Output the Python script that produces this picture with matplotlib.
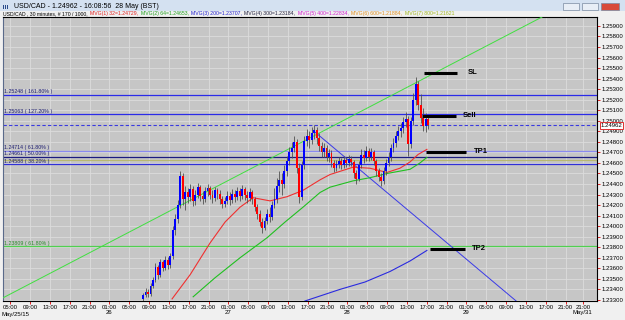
import numpy as np
import matplotlib
matplotlib.use("Agg")
import matplotlib.pyplot as plt
from matplotlib.patches import Rectangle
from matplotlib.transforms import blended_transform_factory

plt.rcParams["font.family"] = ["Liberation Sans", "DejaVu Sans"]

# --- candles (30 minute bars, index 0 = first visible bar) ---
opens = [1.2331,1.2335,1.2338,1.2336,1.2343,1.2349,1.2361,1.2354,1.2366,1.2360,
         1.2368,1.2363,1.2372,1.2396,1.2407,1.2420,1.2448,1.2426,1.2432,1.2428,
         1.2435,1.2424,1.2430,1.2437,1.2429,1.2426,1.2433,1.2436,1.2430,1.2427,
         1.2434,1.2431,1.2426,1.2421,1.2424,1.2429,1.2425,1.2431,1.2428,1.2433,
         1.2429,1.2435,1.2430,1.2427,1.2432,1.2426,1.2418,1.2412,1.2404,1.2398,
         1.2405,1.2412,1.2409,1.2420,1.2426,1.2438,1.2444,1.2440,1.2452,1.2462,
         1.2470,1.2474,1.2480,1.2455,1.2428,1.2458,1.2481,1.2486,1.2482,1.2488,
         1.2491,1.2484,1.2476,1.2470,1.2474,1.2466,1.2469,1.2460,1.2455,1.2459,
         1.2462,1.2458,1.2463,1.2460,1.2464,1.2461,1.2450,1.2445,1.2458,1.2468,
         1.2465,1.2471,1.2466,1.2470,1.2462,1.2452,1.2447,1.2443,1.2452,1.2460,
         1.2466,1.2474,1.2479,1.2486,1.2490,1.2493,1.2499,1.2502,1.2478,1.2500,
         1.2520,1.2535,1.2515,1.2503,1.2495,1.2502]
closes = [1.2335,1.2338,1.2336,1.2343,1.2349,1.2361,1.2354,1.2366,1.2360,1.2368,
          1.2363,1.2372,1.2396,1.2407,1.2420,1.2448,1.2426,1.2432,1.2428,1.2435,
          1.2424,1.2430,1.2437,1.2429,1.2426,1.2433,1.2436,1.2430,1.2427,1.2434,
          1.2431,1.2426,1.2421,1.2424,1.2429,1.2425,1.2431,1.2428,1.2433,1.2429,
          1.2435,1.2430,1.2427,1.2432,1.2426,1.2418,1.2412,1.2404,1.2398,1.2405,
          1.2412,1.2409,1.2420,1.2426,1.2438,1.2444,1.2440,1.2452,1.2462,1.2470,
          1.2474,1.2480,1.2455,1.2428,1.2458,1.2481,1.2486,1.2482,1.2488,1.2491,
          1.2484,1.2476,1.2470,1.2474,1.2466,1.2469,1.2460,1.2455,1.2459,1.2462,
          1.2458,1.2463,1.2460,1.2464,1.2461,1.2450,1.2445,1.2458,1.2468,1.2465,
          1.2471,1.2466,1.2470,1.2462,1.2452,1.2447,1.2443,1.2452,1.2460,1.2466,
          1.2474,1.2479,1.2486,1.2490,1.2493,1.2499,1.2502,1.2478,1.2500,1.2520,
          1.2535,1.2515,1.2503,1.2495,1.2502,1.24962]
highs = [1.2337,1.2341,1.2340,1.2346,1.2352,1.2365,1.2363,1.2369,1.2368,1.2372,
         1.2371,1.2375,1.2400,1.2412,1.2425,1.2452,1.2450,1.2438,1.2436,1.2440,
         1.2438,1.2434,1.2441,1.2439,1.2433,1.2437,1.2440,1.2438,1.2434,1.2437,
         1.2436,1.2434,1.2429,1.2428,1.2433,1.2432,1.2435,1.2434,1.2437,1.2436,
         1.2439,1.2437,1.2433,1.2436,1.2434,1.2428,1.2421,1.2415,1.2408,1.2409,
         1.2416,1.2418,1.2424,1.2436,1.2446,1.2452,1.2450,1.2458,1.2467,1.2475,
         1.2480,1.2486,1.2483,1.2460,1.2462,1.2486,1.2492,1.2490,1.2494,1.2496,
         1.2494,1.2488,1.2480,1.2479,1.2477,1.2473,1.2472,1.2463,1.2463,1.2466,
         1.2465,1.2467,1.2466,1.2468,1.2467,1.2463,1.2453,1.2462,1.2473,1.2472,
         1.2476,1.2474,1.2474,1.2472,1.2464,1.2455,1.2450,1.2456,1.2464,1.2470,
         1.2478,1.2484,1.2490,1.2495,1.2498,1.2504,1.2508,1.2505,1.2504,1.2526,
         1.2542,1.2538,1.2525,1.2512,1.2507,1.2505]
lows = [1.2329,1.2333,1.2333,1.2334,1.2341,1.2347,1.2350,1.2352,1.2357,1.2358,
        1.2359,1.2360,1.2369,1.2392,1.2403,1.2417,1.2420,1.2415,1.2422,1.2424,
        1.2419,1.2420,1.2427,1.2424,1.2421,1.2423,1.2429,1.2426,1.2422,1.2424,
        1.2426,1.2421,1.2417,1.2418,1.2421,1.2420,1.2422,1.2423,1.2425,1.2424,
        1.2426,1.2425,1.2422,1.2424,1.2421,1.2414,1.2407,1.2400,1.2394,1.2396,
        1.2402,1.2404,1.2406,1.2417,1.2422,1.2432,1.2430,1.2436,1.2448,1.2458,
        1.2465,1.2470,1.2450,1.2422,1.2425,1.2454,1.2476,1.2474,1.2478,1.2483,
        1.2478,1.2471,1.2466,1.2466,1.2462,1.2461,1.2456,1.2451,1.2452,1.2455,
        1.2454,1.2455,1.2456,1.2457,1.2457,1.2446,1.2440,1.2443,1.2455,1.2460,
        1.2462,1.2462,1.2463,1.2458,1.2448,1.2443,1.2438,1.2440,1.2449,1.2457,
        1.2462,1.2470,1.2475,1.2482,1.2485,1.2488,1.2494,1.2467,1.2474,1.2496,
        1.2515,1.2510,1.2498,1.2490,1.2489,1.2492]

# --- moving averages, (bar index, price) ---
ma32_x = [11.7, 19.0, 27.0, 33.1, 39.1, 44.4, 51.2, 58.1, 64.5, 71.4, 75.4, 84.7, 91.5, 98.4, 103.6, 107.7, 110.9, 114.5]
ma32_y = [1.2331, 1.2354, 1.2384, 1.2404, 1.2418, 1.2427, 1.2424, 1.2428, 1.2434, 1.2444, 1.2449, 1.2456, 1.2455, 1.2451, 1.2455, 1.2461, 1.2468, 1.24729]
ma64_x = [20.2, 29.0, 39.1, 50.0, 57.3, 64.5, 71.4, 75.4, 84.7, 91.5, 98.4, 107.7, 111.7, 114.5]
ma64_y = [1.2333, 1.2351, 1.2370, 1.2389, 1.2404, 1.2418, 1.2432, 1.2437, 1.2443, 1.2446, 1.2450, 1.2454, 1.2460, 1.24653]
ma200_x = [65.3, 79.4, 89.5, 99.6, 107.7, 114.5]
ma200_y = [1.2329, 1.2340, 1.2347, 1.2357, 1.2367, 1.2377]

# --- drawn objects ---
green_trend = [(-56.5, 1.2332), (154.0, 1.2590)]
blue_trend = [(68.5, 1.2491), (151.0, 1.2328)]
fib_levels = [1.25248, 1.25063, 1.24714, 1.24661, 1.24588, 1.23809]
fib_pcts = ["161.80%", "127.20%", "61.80%", "50.00%", "38.20%", "61.80%"]
fib_colors = ["#2a2ae8", "#2a2ae8", "#8a8af0", "#1c1c80", "#3030d8", "#50d050"]
fib_text_colors = ["#1c1c70", "#1c1c70", "#1c1c70", "#1c1c70", "#1c1c70", "#2a8a2a"]
last_price = 1.24962
marks = ["SL", "Sell", "TP1", "TP2"]
mark_prices = [1.25454, 1.25046, 1.24704, 1.23784]
mark_x0 = [113.3, 112.5, 114.1, 115.7]
mark_x1 = [126.6, 126.2, 130.2, 129.8]
mark_tx = [131.0, 129.0, 133.5, 132.5]

# --- time axis ---
time_labels = ["05:00", "09:00", "13:00", "17:00", "21:00", "01:00",
               "05:00", "09:00", "13:00", "17:00", "21:00", "01:00",
               "05:00", "09:00", "13:00", "17:00", "21:00", "01:00",
               "05:00", "09:00", "13:00", "17:00", "21:00", "01:00",
               "05:00", "09:00", "13:00", "17:00", "21:00", "21:00"]
time_pos = [-53.6 + 8 * k for k in range(29)] + [177.4]
day_labels = ["26", "27", "28", "29", "May/31"]
day_idx = [5, 11, 17, 23, 29]

W, H = 625, 320
fig = plt.figure(figsize=(W / 100, H / 100), dpi=100)
fig.patch.set_facecolor("#f0f0f0")
ax = fig.add_axes([3 / W, 19 / H, 594 / W, 284 / H])
ax.set_facecolor("#c6c6c6")

ax.set_xlim(-56.5, 183.1)
ax.set_ylim(1.23290, 1.25985)

ax.set_xticks(time_pos)
ax.set_xticklabels(time_labels, fontsize=4.3)
yt = np.round(np.arange(1.233, 1.2595, 0.001), 3)
ax.set_yticks(yt)
ax.set_yticklabels(["%.5f" % v for v in yt], fontsize=4.3)
ax.yaxis.tick_right()
ax.tick_params(axis="both", colors="#e00000", length=2, width=0.6, pad=1.2, labelcolor="black")
ax.grid(True, color="#dcdcdc", lw=0.6)
ax.set_axisbelow(True)
for s in ax.spines.values():
    s.set_color("black")
    s.set_linewidth(0.8)
ax.spines["left"].set_color("#5a6a8a")

# day labels under the times
tr = blended_transform_factory(ax.transData, ax.transAxes)
for d, k in zip(day_labels, day_idx):
    ax.text(time_pos[k], -0.031, d, transform=tr, fontsize=4.3, ha="center", va="top")
fig.text(2 / W, 1 - 317 / H, "May/25/15", fontsize=4.3, ha="left", va="bottom")

# fibonacci lines
for lvl, p, c, tc in zip(fib_levels, fib_pcts, fib_colors, fib_text_colors):
    ax.axhline(lvl, color=c, lw=0.9, zorder=2)
    ax.text(-56.0, lvl + 0.00005, "%.5f ( %s )" % (lvl, p), fontsize=3.8, color=tc,
            ha="left", va="bottom", zorder=3)
ax.axhline(1.24625, color="#b8b870", lw=0.9, zorder=2)
ax.axhline(last_price, color="#3a3ae0", lw=0.8, ls=(0, (3, 2)), zorder=2)

# trend lines
ax.axline(green_trend[0], green_trend[1], color="#40e040", lw=0.7, zorder=3)
ax.plot([blue_trend[0][0], blue_trend[1][0]], [blue_trend[0][1], blue_trend[1][1]],
        color="#3a3ae8", lw=0.7, zorder=3)

# moving averages
ax.plot(ma32_x, ma32_y, color="#f03030", lw=0.8, zorder=4)
ax.plot(ma64_x, ma64_y, color="#20c020", lw=0.8, zorder=4)
ax.plot(ma200_x, ma200_y, color="#2a2ae0", lw=0.8, zorder=4)

# candles
o = np.array(opens); c = np.array(closes); h = np.array(highs); l = np.array(lows)
idx = np.arange(len(c))
ax.vlines(idx, l, h, color="#505050", lw=0.6, zorder=5)
up = c >= o
ax.bar(idx[up], (c - o)[up], bottom=o[up], width=0.75, color="#0000ff", zorder=6)
ax.bar(idx[~up], (o - c)[~up], bottom=c[~up], width=0.75, color="#ff0000", zorder=6)

# trade markers
for m, p, x0, x1, tx in zip(marks, mark_prices, mark_x0, mark_x1, mark_tx):
    ax.plot([x0, x1], [p, p], color="black", lw=2.2, solid_capstyle="butt", zorder=7)
    ax.text(tx, p, m, fontsize=5.5, fontweight="bold", ha="left", va="center", zorder=7)

# current price box
trp = blended_transform_factory(ax.transAxes, ax.transData)
ax.text(1.006, last_price - 0.00003, "%.5f" % last_price, transform=trp, fontsize=4.3, ha="left",
        va="center", zorder=8,
        bbox=dict(boxstyle="square,pad=0.15", fc="white", ec="#e03030", lw=0.7))

# window title bar
fig.patches.append(Rectangle((0, 1 - 11 / H), 1, 11 / H, transform=fig.transFigure,
                             fc="#d4e1f1", ec="none", zorder=0))
fig.text(14 / W, 1 - 6 / H, "USD/CAD - 1.24962 - 16:08:56  28 May (BST)", fontsize=5,
         va="center", ha="left")
for bx, bw, col in [(563, 16, "#e8eef6"), (582, 16, "#e8eef6"), (601, 18, "#d84a3a")]:
    fig.patches.append(Rectangle((bx / W, 1 - 10 / H), bw / W, 7 / H, transform=fig.transFigure,
                                 fc=col, ec="#7a8aa0", lw=0.5, zorder=1))
for bx in [3, 5, 7]:
    fig.patches.append(Rectangle((bx / W, 1 - 9 / H), 1 / W, 4 / H, transform=fig.transFigure,
                                 fc="#2a4a8a", ec="none", zorder=1))

# indicator info line, pieces placed one after another
info = [("USD/CAD , 30 minutes, # 170 / 1000,", "black"),
        ("MVG(1) 32=1.24729,", "#e02020"),
        ("MVG(2) 64=1.24653,", "#20a020"),
        ("MVG(3) 200=1.23707,", "#2020d0"),
        ("MVG(4) 300=1.23184,", "#202040"),
        ("MVG(5) 400=1.22834,", "#d020d0"),
        ("MVG(6) 600=1.21884,", "#e09020"),
        ("MVG(7) 800=1.21621", "#a0b820")]
renderer = fig.canvas.get_renderer()
px = 3.0
for t, col in info:
    txt = fig.text(px / W, 1 - 14 / H, t, fontsize=3.7, color=col, ha="left", va="center")
    px += txt.get_window_extent(renderer).width + 2.5

fig.savefig("out.png", dpi=100, facecolor=fig.get_facecolor())
